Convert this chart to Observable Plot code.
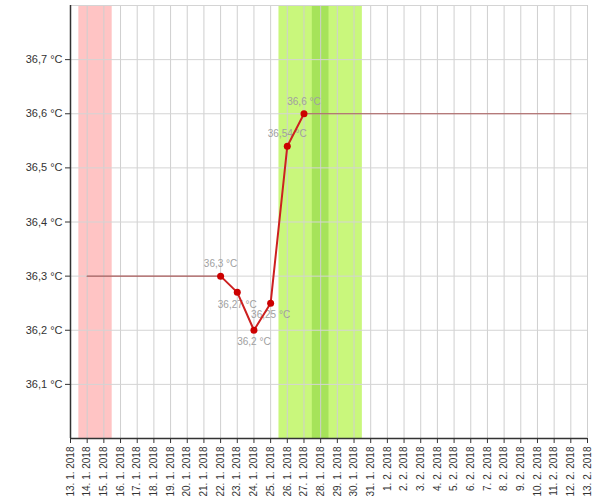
<!DOCTYPE html>
<html>
<head>
<meta charset="utf-8">
<script src="https://cdn.jsdelivr.net/npm/d3@7"></script>
<script src="https://cdn.jsdelivr.net/npm/@observablehq/plot@0.6"></script>
<style>
  html, body { margin: 0; padding: 0; background: #fff; }
  #chart svg { display: block; }
</style>
</head>
<body>
<div id="chart"></div>
<script>
// Measured temperatures
const measureDates = ["2018-01-22", "2018-01-23", "2018-01-24", "2018-01-25", "2018-01-26", "2018-01-27"];
const measureTemps = [36.3, 36.27, 36.2, 36.25, 36.54, 36.6];
const labelAbove = [true, false, false, false, true, true];

// Flat baseline segments
const flatLeftDates = ["2018-01-14", "2018-01-22"];
const flatLeftTemp = 36.3;
const flatRightDates = ["2018-01-27", "2018-02-12"];
const flatRightTemp = 36.6;

// Shaded bands
const redBand = ["2018-01-13T12:00", "2018-01-15T12:00"];
const greenBand = ["2018-01-25T12:00", "2018-01-30T12:00"];
const darkGreenBand = ["2018-01-27T12:00", "2018-01-28T12:00"];

// Axis ticks
const xTickDates = [
  "2018-01-13","2018-01-14","2018-01-15","2018-01-16","2018-01-17","2018-01-18","2018-01-19","2018-01-20",
  "2018-01-21","2018-01-22","2018-01-23","2018-01-24","2018-01-25","2018-01-26","2018-01-27","2018-01-28",
  "2018-01-29","2018-01-30","2018-01-31","2018-02-01","2018-02-02","2018-02-03","2018-02-04","2018-02-05",
  "2018-02-06","2018-02-07","2018-02-08","2018-02-09","2018-02-10","2018-02-11","2018-02-12","2018-02-13"
];
const yTicks = [36.1, 36.2, 36.3, 36.4, 36.5, 36.6, 36.7];
const yGrid = [36.0, 36.1, 36.2, 36.3, 36.4, 36.5, 36.6, 36.7, 36.8];
const yDomain = [36.0, 36.8];

const parse = s => new Date(s + (s.length > 10 ? ":00Z" : "T00:00:00Z"));
const xTicks = xTickDates.map(parse);
const xDomain = [xTicks[0], xTicks[xTicks.length - 1]];

const measures = measureDates.map((d, i) => ({date: parse(d), t: measureTemps[i], above: labelAbove[i]}));
const flatLeft = flatLeftDates.map(d => ({date: parse(d), t: flatLeftTemp}));
const flatRight = flatRightDates.map(d => ({date: parse(d), t: flatRightTemp}));
const bands = [
  {x1: parse(redBand[0]), x2: parse(redBand[1]), fill: "#ffc4c4"},
  {x1: parse(greenBand[0]), x2: parse(greenBand[1]), fill: "#c9f77c"},
  {x1: parse(darkGreenBand[0]), x2: parse(darkGreenBand[1]), fill: "#a6e35a"}
];

const fmtDate = d => `${d.getUTCDate()}. ${d.getUTCMonth() + 1}. ${d.getUTCFullYear()}`;
const fmtTemp = v => `${String(+v.toFixed(2)).replace(".", ",")} °C`;

const chart = Plot.plot({
  width: 600,
  height: 496,
  marginLeft: 70,
  marginRight: 13,
  marginTop: 5,
  marginBottom: 58,
  style: {fontFamily: "'Liberation Sans', Arial, sans-serif", fontSize: "11px", color: "#333", background: "#fff"},
  x: {type: "utc", domain: xDomain},
  y: {domain: yDomain},
  marks: [
    Plot.rectX(bands, {x1: "x1", x2: "x2", y1: yDomain[0], y2: yDomain[1], fill: "fill"}),
    Plot.ruleX(xTicks, {stroke: "#cfcfcf", strokeWidth: 1}),
    Plot.ruleY(yGrid, {stroke: "#d4d4d4", strokeWidth: 1}),
    Plot.line(flatLeft, {x: "date", y: "t", stroke: "#a85a5a", strokeWidth: 1.2}),
    Plot.line(flatRight, {x: "date", y: "t", stroke: "#a85a5a", strokeWidth: 1.2}),
    Plot.text(measures.filter(d => d.above), {x: "date", y: "t", text: d => fmtTemp(d.t), dy: -12, fill: "#a0a0a0", fontSize: 10}),
    Plot.text(measures.filter(d => !d.above), {x: "date", y: "t", text: d => fmtTemp(d.t), dy: 12, fill: "#a0a0a0", fontSize: 10}),
    Plot.line(measures, {x: "date", y: "t", stroke: "#cc2020", strokeWidth: 2}),
    Plot.dot(measures, {x: "date", y: "t", r: 3.5, fill: "#cc0000", stroke: "none"}),
    Plot.axisX({ticks: xTicks, tickFormat: fmtDate, tickRotate: -90, tickSize: 5, tickPadding: 3, fontSize: 10, stroke: "#333", label: null}),
    Plot.axisY({ticks: yTicks, tickFormat: v => `${v.toFixed(1).replace(".", ",")} °C`, tickSize: 5, tickPadding: 3, fontSize: 11, stroke: "#333", label: null}),
    Plot.ruleX([xDomain[0]], {stroke: "#333", strokeWidth: 1.5}),
    Plot.ruleY([yDomain[0]], {stroke: "#333", strokeWidth: 1.5})
  ]
});
document.getElementById("chart").appendChild(chart);
</script>
</body>
</html>
